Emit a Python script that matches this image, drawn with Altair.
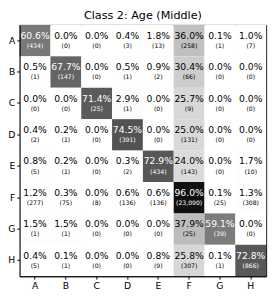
import altair as alt
import pandas as pd

labels = ["A", "B", "C", "D", "E", "F", "G", "H"]
pct_rows = [
    [60.6, 0.0, 0.0, 0.4, 1.8, 36.0, 0.1, 1.0],
    [0.5, 67.7, 0.0, 0.5, 0.9, 30.4, 0.0, 0.0],
    [0.0, 0.0, 71.4, 2.9, 0.0, 25.7, 0.0, 0.0],
    [0.4, 0.2, 0.0, 74.5, 0.0, 25.0, 0.0, 0.0],
    [0.8, 0.2, 0.0, 0.3, 72.9, 24.0, 0.0, 1.7],
    [1.2, 0.3, 0.0, 0.6, 0.6, 96.0, 0.1, 1.3],
    [1.5, 1.5, 0.0, 0.0, 0.0, 37.9, 59.1, 0.0],
    [0.4, 0.1, 0.0, 0.0, 0.8, 25.8, 0.1, 72.8],
]
count_rows = [
    [434, 0, 0, 3, 13, 258, 1, 7],
    [1, 147, 0, 1, 2, 66, 0, 0],
    [0, 0, 25, 1, 0, 9, 0, 0],
    [2, 1, 0, 391, 0, 131, 0, 0],
    [5, 1, 0, 2, 434, 143, 0, 10],
    [277, 75, 8, 136, 136, 23090, 25, 308],
    [1, 1, 0, 0, 0, 25, 39, 0],
    [5, 1, 0, 0, 9, 307, 1, 866],
]

# matplotlib "Greys" colormap stops
grey_domain = [0, 0.125, 0.25, 0.375, 0.5, 0.625, 0.75, 0.875, 1]
grey_range = ["#ffffff", "#f0f0f0", "#d9d9d9", "#bdbdbd", "#969696",
              "#737373", "#525252", "#252525", "#000000"]

records = []
for i, r in enumerate(labels):
    for j, c in enumerate(labels):
        p = pct_rows[i][j]
        n = count_rows[i][j]
        records.append({
            "actual": r,
            "pred": c,
            "frac": p / 100.0,
            "pct_label": f"{p:.1f}%",
            "cnt_label": f"({n:,})",
            "dark": p > 50,
        })
df = pd.DataFrame(records)

font = "DejaVu Sans"
x = alt.X("pred:N", sort=labels, title=None,
          axis=alt.Axis(labelAngle=0, tickSize=3, labelFontSize=9.5, labelFont=font,
                        labelColor="black", domainColor="black", tickColor="black", labelPadding=2))
y = alt.Y("actual:N", sort=labels, title=None,
          axis=alt.Axis(tickSize=3, labelFontSize=9.5, labelFont=font,
                        labelColor="black", domainColor="black", tickColor="black", labelPadding=2))

base = alt.Chart(df).encode(x=x, y=y)

rect = base.mark_rect().encode(
    color=alt.Color("frac:Q", scale=alt.Scale(domain=grey_domain, range=grey_range), legend=None)
)

text_color = alt.condition("datum.dark", alt.value("white"), alt.value("black"))

pct = base.mark_text(font=font, fontSize=9.5, dy=-5, baseline="middle").encode(
    text="pct_label:N", color=text_color
)
cnt = base.mark_text(font=font, fontSize=6.3, dy=5.5, baseline="middle").encode(
    text="cnt_label:N", color=text_color
)

chart = (rect + pct + cnt).properties(
    width=254,
    height=259,
    title=alt.Title("Class 2: Age (Middle)", font=font, fontSize=11.5, fontWeight="normal",
                    color="black", offset=4),
    autosize=alt.AutoSizeParams(type="none"),
    padding={"left": 12, "top": 13, "right": 5, "bottom": 18},
).configure_view(stroke="black", strokeWidth=1).configure_scale(bandPaddingInner=0, bandPaddingOuter=0)

chart.save("out.html", embed_options={"renderer": "svg", "actions": False})
